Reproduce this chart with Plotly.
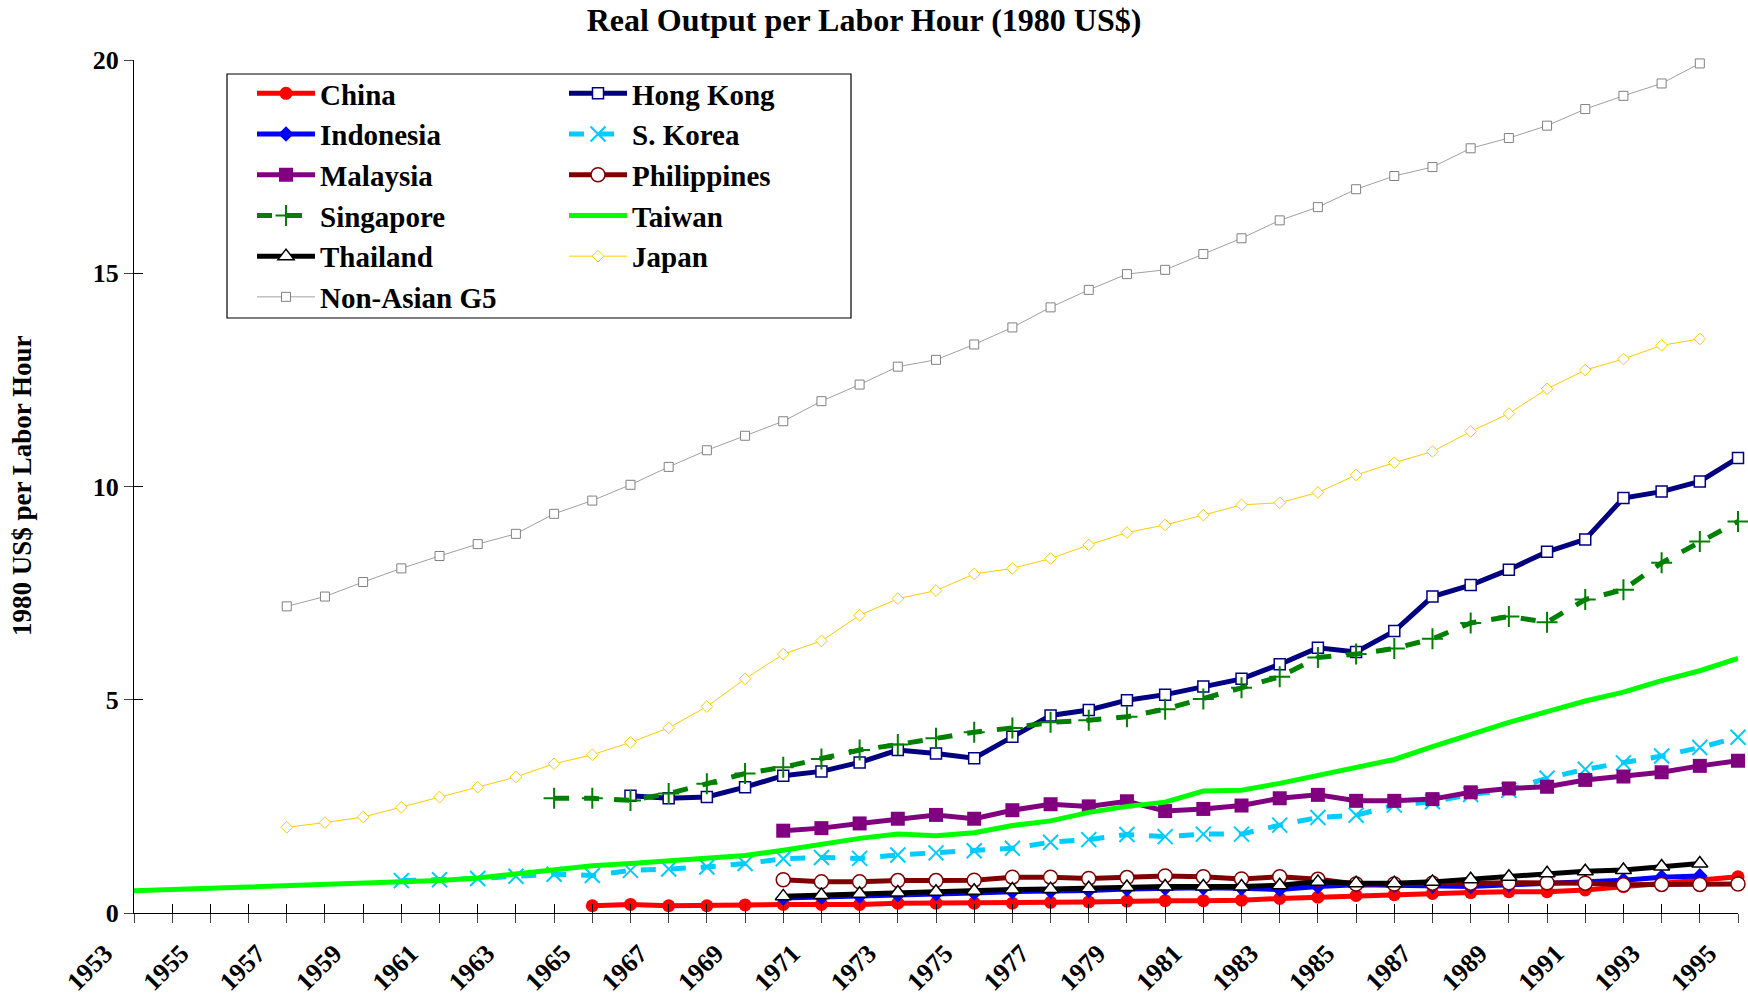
import plotly.graph_objects as go

W, H = 1748, 997
years_all = list(range(1953, 1996))

china_years = list(range(1965, 1996))
china = [0.17, 0.20, 0.17, 0.17, 0.19, 0.20, 0.20, 0.20, 0.23, 0.23, 0.23, 0.23, 0.25, 0.26, 0.28,
         0.29, 0.29, 0.30, 0.34, 0.37, 0.41, 0.43, 0.46, 0.48, 0.50, 0.50, 0.54, 0.62, 0.70, 0.76, 0.85]

hk_years = list(range(1966, 1996))
hong_kong = [2.75, 2.69, 2.72, 2.95, 3.22, 3.32, 3.53, 3.82, 3.74, 3.63, 4.13, 4.63, 4.76, 4.99, 5.12,
             5.31, 5.49, 5.83, 6.22, 6.12, 6.61, 7.42, 7.69, 8.05, 8.47, 8.76, 9.73, 9.88, 10.12, 10.67]

indo_years = list(range(1970, 1995))
indonesia = [0.35, 0.37, 0.40, 0.43, 0.45, 0.47, 0.50, 0.51, 0.53, 0.56, 0.58, 0.59, 0.58, 0.55, 0.62,
             0.66, 0.65, 0.63, 0.62, 0.66, 0.70, 0.73, 0.77, 0.84, 0.87]

korea_years = list(range(1960, 1996))
korea = [0.76, 0.78, 0.81, 0.86, 0.91, 0.88, 1.00, 1.03, 1.08, 1.16, 1.27, 1.30, 1.28, 1.36, 1.41, 1.46,
         1.52, 1.66, 1.72, 1.84, 1.79, 1.85, 1.85, 2.06, 2.24, 2.29, 2.53, 2.61, 2.78, 2.88, 3.16, 3.37,
         3.52, 3.68, 3.88, 4.12]

malay_years = list(range(1970, 1996))
malaysia = [1.93, 1.99, 2.10, 2.21, 2.30, 2.21, 2.41, 2.55, 2.50, 2.62, 2.39, 2.44, 2.52, 2.69, 2.77,
            2.63, 2.63, 2.67, 2.83, 2.92, 2.96, 3.12, 3.20, 3.30, 3.45, 3.57]

phil_years = list(range(1970, 1996))
philippines = [0.78, 0.73, 0.73, 0.76, 0.76, 0.77, 0.84, 0.84, 0.81, 0.83, 0.87, 0.85, 0.80, 0.85, 0.79,
               0.68, 0.68, 0.70, 0.70, 0.71, 0.71, 0.70, 0.66, 0.67, 0.67, 0.68]

sing_years = list(range(1964, 1996))
singapore = [2.69, 2.69, 2.64, 2.80, 3.03, 3.27, 3.42, 3.61, 3.82, 3.95, 4.10, 4.24, 4.34, 4.47, 4.52,
             4.60, 4.78, 5.02, 5.28, 5.54, 5.99, 6.07, 6.20, 6.43, 6.80, 6.95, 6.82, 7.35, 7.58, 8.21,
             8.71, 9.18]

taiwan_years = list(range(1953, 1996))
taiwan = [0.52, 0.55, 0.58, 0.60, 0.63, 0.66, 0.69, 0.72, 0.76, 0.82, 0.92, 1.02, 1.11, 1.16, 1.22,
          1.28, 1.35, 1.47, 1.60, 1.75, 1.85, 1.81, 1.88, 2.05, 2.16, 2.36, 2.50, 2.60, 2.86, 2.88,
          3.04, 3.23, 3.43, 3.60, 3.90, 4.20, 4.47, 4.72, 4.97, 5.18, 5.45, 5.68, 5.97]

thai_years = list(range(1970, 1995))
thailand = [0.39, 0.42, 0.45, 0.48, 0.50, 0.52, 0.55, 0.56, 0.58, 0.61, 0.62, 0.62, 0.62, 0.65, 0.73,
            0.70, 0.70, 0.73, 0.79, 0.85, 0.93, 0.98, 1.01, 1.09, 1.16]

japan_years = list(range(1957, 1995))
japan = [2.01, 2.12, 2.25, 2.48, 2.72, 2.95, 3.19, 3.50, 3.71, 4.00, 4.34, 4.84, 5.49, 6.07, 6.38, 6.98,
         7.37, 7.56, 7.95, 8.08, 8.31, 8.63, 8.92, 9.10, 9.33, 9.57, 9.62, 9.86, 10.27, 10.56, 10.82,
         11.29, 11.71, 12.29, 12.73, 12.99, 13.31, 13.46]

g5_years = list(range(1957, 1995))
g5 = [7.19, 7.42, 7.76, 8.08, 8.37, 8.65, 8.89, 9.36, 9.67, 10.04, 10.46, 10.85, 11.19, 11.53, 12.00,
      12.39, 12.81, 12.97, 13.33, 13.73, 14.20, 14.61, 14.98, 15.08, 15.45, 15.82, 16.24, 16.55, 16.97,
      17.28, 17.49, 17.93, 18.17, 18.46, 18.85, 19.16, 19.45, 19.92]

FONT = "Liberation Serif"

series = [
    dict(name="China", x=china_years, y=china, legend="legend",
         line=dict(color="#FF0000", width=5),
         marker=dict(symbol="circle", size=13, color="#FF0000")),
    dict(name="Hong Kong", x=hk_years, y=hong_kong, legend="legend2",
         line=dict(color="#000080", width=5),
         marker=dict(symbol="square", size=11, color="white", line=dict(color="#000080", width=1.5))),
    dict(name="Indonesia", x=indo_years, y=indonesia, legend="legend",
         line=dict(color="#0000FF", width=5),
         marker=dict(symbol="diamond", size=12, color="#0000FF")),
    dict(name="S. Korea", x=korea_years, y=korea, legend="legend2",
         line=dict(color="#00CCFF", width=5, dash="dash"),
         marker=dict(symbol="x-thin", size=15, color="#00CCFF", line=dict(color="#00CCFF", width=2))),
    dict(name="Malaysia", x=malay_years, y=malaysia, legend="legend",
         line=dict(color="#800080", width=5),
         marker=dict(symbol="square", size=14, color="#800080")),
    dict(name="Philippines", x=phil_years, y=philippines, legend="legend2",
         line=dict(color="#800000", width=5),
         marker=dict(symbol="circle", size=14, color="white", line=dict(color="#800000", width=1.5))),
    dict(name="Singapore", x=sing_years, y=singapore, legend="legend",
         line=dict(color="#008000", width=5, dash="dash"),
         marker=dict(symbol="cross-thin", size=15, color="#008000", line=dict(color="#008000", width=2))),
    dict(name="Taiwan", x=taiwan_years, y=taiwan, legend="legend2",
         line=dict(color="#00FF00", width=5), mode="lines"),
    dict(name="Thailand", x=thai_years, y=thailand, legend="legend",
         line=dict(color="#000000", width=5),
         marker=dict(symbol="triangle-up", size=14, color="white", line=dict(color="#000000", width=1.5))),
    dict(name="Japan", x=japan_years, y=japan, legend="legend2",
         line=dict(color="#FFCC00", width=1),
         marker=dict(symbol="diamond", size=9, color="white", line=dict(color="#FFCC00", width=1))),
    dict(name="Non-Asian G5", x=g5_years, y=g5, legend="legend",
         line=dict(color="#A0A0A0", width=1),
         marker=dict(symbol="square", size=9, color="white", line=dict(color="#808080", width=1))),
]

fig = go.Figure()
for s in series:
    mode = s.pop("mode", "lines+markers")
    s["name"] = "<b>" + s["name"] + "</b>"
    fig.add_trace(go.Scatter(mode=mode, cliponaxis=False, **s))

L, R, T, B = 134, 10, 60, 84
pw, ph = W - L - R, H - T - B

def px_x(px):
    return (px - L) / pw

def px_y(py):
    return (H - B - py) / ph

def cx(px):
    return px / W

def cy(py):
    return 1 - py / H

legend_common = dict(
    xanchor="left", yanchor="top",
    bgcolor="rgba(0,0,0,0)", borderwidth=0, itemwidth=58,
    font=dict(family=FONT, size=29, color="black"), tracegroupgap=0,
)

fig.update_layout(
    width=W, height=H,
    margin=dict(l=L, r=R, t=T, b=B, autoexpand=False),
    paper_bgcolor="white", plot_bgcolor="white",
    showlegend=True,
    title=dict(text="<b>Real Output per Labor Hour (1980 US$)</b>",
               xref="container", yref="container", x=cx(864), y=cy(20),
               xanchor="center", yanchor="middle",
               font=dict(family=FONT, size=32, color="black")),
    legend=dict(x=px_x(252), y=px_y(68), **legend_common),
    legend2=dict(x=px_x(564), y=px_y(68), **legend_common),
    xaxis=dict(range=[1953, 1995], tickmode="linear", tick0=1953, dtick=1, ticklabelstep=2,
               tickangle=-45, ticks="outside", ticklen=9, tickcolor="#444", tickwidth=1,
               ticklabelshift=-29, ticklabelstandoff=5, automargin=False,
               showline=True, linecolor="black", linewidth=1, showgrid=False, zeroline=False,
               tickfont=dict(family=FONT, size=26, color="black"), tickprefix="<b>", ticksuffix="</b>"),
    xaxis2=dict(range=[1953, 1995], overlaying="x", matches="x", tickmode="linear", tick0=1953, dtick=1,
                ticks="inside", ticklen=9, tickcolor="black", showticklabels=False, showgrid=False,
                zeroline=False, showline=False, side="bottom", automargin=False),
    yaxis=dict(range=[0, 20], tickmode="linear", tick0=0, dtick=5, ticks="outside", ticklen=9,
               tickcolor="#444", showline=True, linecolor="black", linewidth=1, showgrid=False,
               zeroline=False, tickfont=dict(family=FONT, size=26, color="black"),
               tickprefix="<b>", ticksuffix="</b>", automargin=False),
    yaxis2=dict(range=[0, 20], overlaying="y", matches="y", tickmode="linear", tick0=0, dtick=5,
                ticks="inside", ticklen=9, tickcolor="black", showticklabels=False, showgrid=False,
                zeroline=False, showline=False, side="left", automargin=False),
    shapes=[dict(type="rect", xref="paper", yref="paper",
                 x0=px_x(227), x1=px_x(851), y0=px_y(318), y1=px_y(74),
                 line=dict(color="black", width=1.2), fillcolor="white", layer="above")],
    annotations=[dict(text="<b>1980 US$ per Labor Hour</b>", xref="paper", yref="paper",
                      x=px_x(22), y=px_y(486), xanchor="center", yanchor="middle",
                      textangle=-90, showarrow=False,
                      font=dict(family=FONT, size=27, color="black"))],
)

# invisible trace to activate the overlay tick axes
fig.add_trace(go.Scatter(x=[1953], y=[0], xaxis="x2", yaxis="y2", mode="markers",
                         marker=dict(opacity=0), showlegend=False, hoverinfo="skip"))

fig.write_html("out.html", config={"displayModeBar": False},
               post_script="document.body.style.margin='0';document.body.style.padding='0';")
